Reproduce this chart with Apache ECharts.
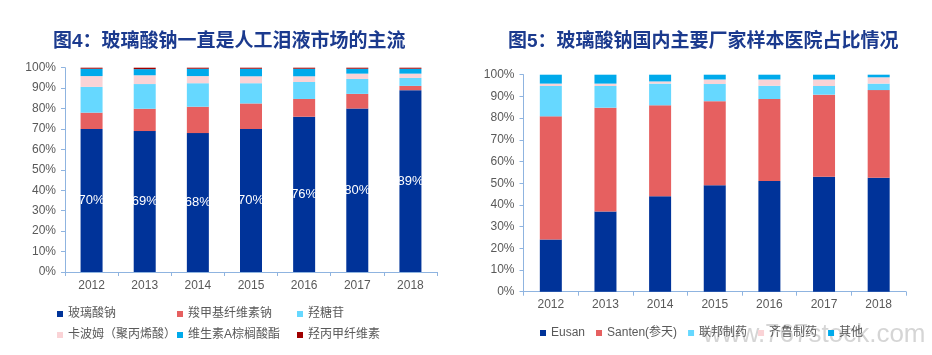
<!DOCTYPE html>
<html>
<head>
<meta charset="utf-8">
<script src="https://cdn.jsdelivr.net/npm/echarts@6/dist/echarts.min.js"></script>
<style>html,body{margin:0;padding:0;background:#fff}#c{width:932px;height:355px}</style>
</head>
<body>
<div id="c"></div>
<script>
// ---- data ----
const years = ['2012', '2013', '2014', '2015', '2016', '2017', '2018'];
const yTicks = [0, 10, 20, 30, 40, 50, 60, 70, 80, 90, 100];

// Figure 4 (left)
const leftNames = ['玻璃酸钠', '羧甲基纤维素钠', '羟糖苷', '卡波姆（聚丙烯酸）', '维生素A棕榈酸酯', '羟丙甲纤维素'];
const hyaluronate = [70, 69, 68, 70, 76, 80, 89];
const cmc = [8, 10.9, 12.9, 12.5, 8.7, 7.2, 2.1];
const hydroxyGlycoside = [12.6, 12.1, 11.5, 9.9, 8.3, 7.3, 3.9];
const carbomer = [5.3, 4.3, 3.5, 3.4, 2.8, 2.6, 2.1];
const vitaminA = [3.6, 3.0, 3.6, 3.7, 3.7, 2.4, 2.4];
const hpmc = [0.5, 0.7, 0.5, 0.5, 0.5, 0.5, 0.5];

// Figure 5 (right)
const rightNames = ['Eusan', 'Santen(参天)', '联邦制药', '齐鲁制药', '其他'];
const eusan = [24, 37, 44, 49, 51, 53, 52.5];
const santen = [56.8, 47.8, 41.9, 38.8, 37.8, 37.8, 40.4];
const lianbang = [14, 10, 10, 7.9, 6.1, 4, 3.0];
const qilu = [1.1, 1.1, 1.0, 2.1, 2.9, 3.0, 2.9];
const others = [4.1, 4.1, 3.1, 2.2, 2.2, 2.2, 1.2];

// ---- styling ----
const FONT = '"Liberation Sans", Arial, "Noto Sans CJK SC", sans-serif';
const AXIS = '#8FB4E0';
const LABEL = '#595959';
const leftColors = ['#003399', '#E66060', '#66D8FF', '#FAD3D6', '#00AAEB', '#A00000'];
const rightColors = ['#003399', '#E66060', '#66D8FF', '#FAD3D6', '#00AAEB'];
const leftData = [hyaluronate, cmc, hydroxyGlycoside, carbomer, vitaminA, hpmc];
const rightData = [eusan, santen, lianbang, qilu, others];

function xAxis(gridIndex, margin) {
  return {
    type: 'category', gridIndex, data: years,
    axisLine: { lineStyle: { color: AXIS, width: 1 } },
    axisTick: { show: true, length: 4, lineStyle: { color: AXIS } },
    axisLabel: { color: LABEL, fontSize: 12, fontFamily: FONT, margin }
  };
}
function yAxis(gridIndex) {
  return {
    type: 'value', gridIndex, min: 0, max: 100, interval: 10,
    axisLine: { show: true, lineStyle: { color: AXIS, width: 1 } },
    axisTick: { show: true, length: 4, lineStyle: { color: AXIS } },
    splitLine: { show: false },
    axisLabel: { color: LABEL, fontSize: 12, fontFamily: FONT, margin: 9,
      formatter: v => (yTicks.includes(v) ? v + '%' : '') }
  };
}

const series = [];
leftNames.forEach((n, i) => {
  const s = {
    name: n, type: 'bar', stack: 'L', xAxisIndex: 0, yAxisIndex: 0,
    barWidth: 22, data: leftData[i], itemStyle: { color: leftColors[i] }
  };
  if (i === 0) {
    s.label = { show: true, position: 'inside', color: '#fff', fontSize: 13,
      fontFamily: FONT, formatter: p => p.value + '%' };
  }
  series.push(s);
});
rightNames.forEach((n, i) => {
  series.push({
    name: n, type: 'bar', stack: 'R', xAxisIndex: 1, yAxisIndex: 1,
    barWidth: 22, data: rightData[i], itemStyle: { color: rightColors[i] }
  });
});

const legendBase = {
  icon: 'rect', itemWidth: 6, itemHeight: 6, padding: 0,
  textStyle: { color: LABEL, fontSize: 12, fontFamily: FONT }
};
const leftLegendPos = [[57, 308], [177, 308], [297, 308], [57, 329], [177, 329], [297, 329]];
const legends = leftNames.map((n, i) => Object.assign({}, legendBase, {
  data: [n], left: leftLegendPos[i][0], top: leftLegendPos[i][1]
}));
legends.push(Object.assign({}, legendBase, {
  data: rightNames, left: 540, top: 327, itemGap: 11
}));

const chart = echarts.init(document.getElementById('c'), null, { renderer: 'canvas' });
chart.setOption({
  backgroundColor: '#fff',
  animation: false,
  title: [
    { text: '图4：玻璃酸钠一直是人工泪液市场的主流', left: 48, top: 27,
      textStyle: { color: '#1B3A8E', fontSize: 19, fontWeight: 'bold', fontFamily: FONT } },
    { text: '图5：玻璃酸钠国内主要厂家样本医院占比情况', left: 503, top: 27,
      textStyle: { color: '#1B3A8E', fontSize: 19, fontWeight: 'bold', fontFamily: FONT } }
  ],
  legend: legends,
  grid: [
    { left: 65, width: 372, top: 67.7, height: 204.3, containLabel: false },
    { left: 523.5, width: 382.5, top: 74.7, height: 217, containLabel: false }
  ],
  xAxis: [xAxis(0, 8), xAxis(1, 7)],
  yAxis: [yAxis(0), yAxis(1)],
  series,
  graphic: [{
    type: 'text', left: 703, top: 322, silent: true,
    style: { text: 'www.767stock.com', fill: 'rgba(150,150,150,0.4)', fontSize: 26, fontFamily: FONT }
  }]
});
</script>
</body>
</html>
